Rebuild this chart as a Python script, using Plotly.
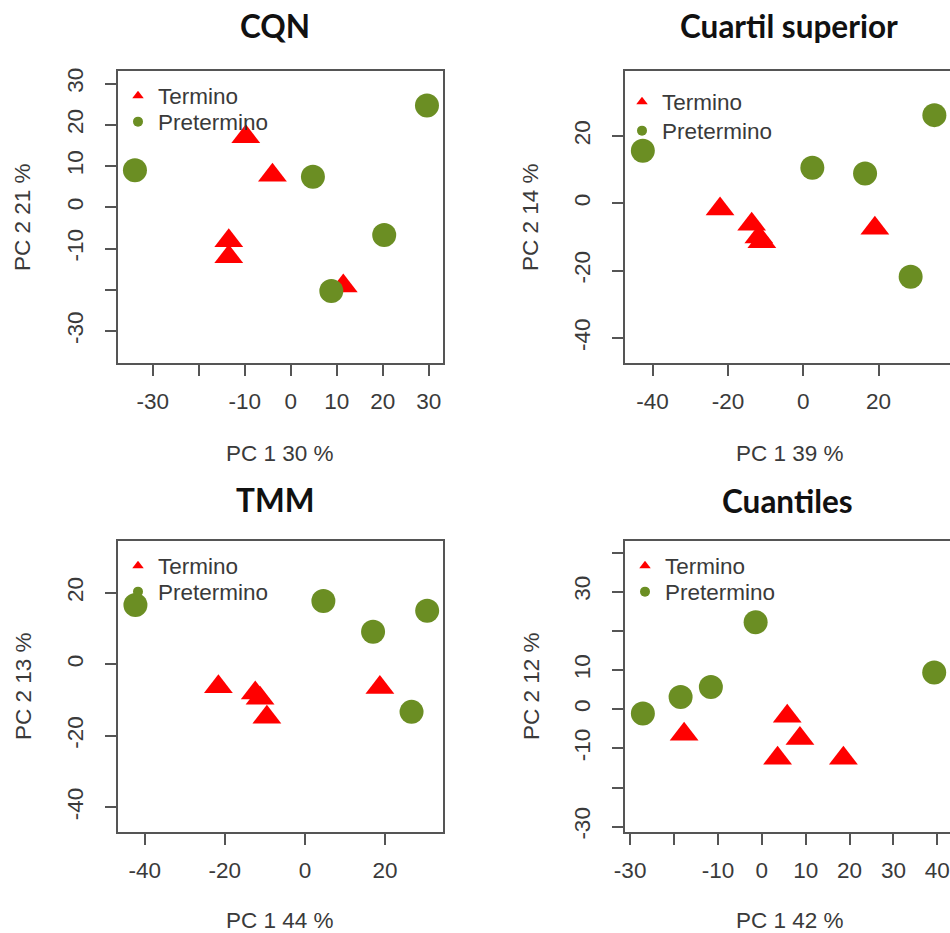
import plotly.graph_objects as go

# ---------------- data ----------------
titles = ["CQN", "Cuartil superior", "TMM", "Cuantiles"]
xlabels = ["PC 1 30 %", "PC 1 39 %", "PC 1 44 %", "PC 1 42 %"]
ylabels = ["PC 2 21 %", "PC 2 14 %", "PC 2 13 %", "PC 2 12 %"]
groups = ["Termino", "Pretermino"]

# CQN
cqn_term_x = [-9.8, -4.0, -13.5, -13.5, 11.4]
cqn_term_y = [17.1, 7.8, -8.1, -12.0, -19.1]
cqn_pre_x = [-33.9, 29.6, 4.8, 20.3, 8.8]
cqn_pre_y = [9.0, 24.7, 7.4, -6.7, -20.3]

# Cuartil superior
uq_term_x = [-22.1, -13.7, -11.0, -11.8, 19.0]
uq_term_y = [-1.7, -6.2, -11.4, -10.0, -7.4]
uq_pre_x = [-42.6, 34.8, 2.4, 16.4, 28.5]
uq_pre_y = [15.6, 26.2, 10.6, 8.9, -21.8]

# TMM
tmm_term_x = [-21.6, -12.4, -11.2, -9.5, 18.7]
tmm_term_y = [-6.3, -8.0, -9.5, -14.8, -6.5]
tmm_pre_x = [-42.3, 4.6, 30.5, 17.0, 26.6]
tmm_pre_y = [16.6, 17.7, 15.0, 9.1, -13.3]

# Cuantiles
cua_term_x = [-17.7, 5.8, 8.7, 3.6, 18.6]
cua_term_y = [-6.4, -1.8, -7.5, -12.5, -12.5]
cua_pre_x = [-27.1, -18.5, -11.6, -1.4, 39.3]
cua_pre_y = [-1.1, 3.1, 5.7, 22.2, 9.4]

# tick values and labels (blank = label dropped as in the original)
cqn_xticks = [-30, -20, -10, 0, 10, 20, 30]
cqn_xtext = ["-30", "", "-10", "0", "10", "20", "30"]
cqn_yticks = [-30, -20, -10, 0, 10, 20, 30]
cqn_ytext = ["-30", "", "-10", "0", "10", "20", "30"]
uq_xticks = [-40, -20, 0, 20]
uq_xtext = ["-40", "-20", "0", "20"]
uq_yticks = [-40, -20, 0, 20]
uq_ytext = ["-40", "-20", "0", "20"]
tmm_xticks = [-40, -20, 0, 20]
tmm_xtext = ["-40", "-20", "0", "20"]
tmm_yticks = [-40, -20, 0, 20]
tmm_ytext = ["-40", "-20", "0", "20"]
cua_xticks = [-30, -20, -10, 0, 10, 20, 30, 40]
cua_xtext = ["-30", "", "-10", "0", "10", "20", "30", "40"]
cua_yticks = [-30, -20, -10, 0, 10, 20, 30, 40]
cua_ytext = ["-30", "", "-10", "0", "10", "", "30", ""]

# ---------------- geometry (window pixels) ----------------
W, H = 950, 933
RED = "#FF0000"
GREEN = "#6B8E23"
TXT = "#3a3a3a"
AX = "#555555"
FONT = "Liberation Sans, Arial, sans-serif"
FS = 22.5

panels = [
    dict(data=(cqn_term_x, cqn_term_y, cqn_pre_x, cqn_pre_y),
         box=(117, 444, 70, 364), xr=(-37.8, 33.3), yr=(-38.0, 33.3),
         xt=(cqn_xticks, cqn_xtext), yt=(cqn_yticks, cqn_ytext),
         title=(275, 26), xlab=(280, 453), ylab=(23, 217),
         leg=((138, 96), (138, 122))),
    dict(data=(uq_term_x, uq_term_y, uq_pre_x, uq_pre_y),
         box=(624, 953, 70, 364), xr=(-47.6, 38.95), yr=(-47.7, 39.6),
         xt=(uq_xticks, uq_xtext), yt=(uq_yticks, uq_ytext),
         title=(789, 26), xlab=(790, 453), ylab=(531, 217),
         leg=((642, 102), (642, 131))),
    dict(data=(tmm_term_x, tmm_term_y, tmm_pre_x, tmm_pre_y),
         box=(117, 444, 540, 833), xr=(-46.9, 34.7), yr=(-47.2, 34.8),
         xt=(tmm_xticks, tmm_xtext), yt=(tmm_yticks, tmm_ytext),
         title=(275, 500), xlab=(280, 920), ylab=(23, 686),
         leg=((138, 566), (138, 592))),
    dict(data=(cua_term_x, cua_term_y, cua_pre_x, cua_pre_y),
         box=(624, 953, 540, 833), xr=(-31.4, 42.9), yr=(-31.6, 43.2),
         xt=(cua_xticks, cua_xtext), yt=(cua_yticks, cua_ytext),
         title=(787, 501), xlab=(790, 920), ylab=(531, 686),
         leg=((645, 566), (645, 592))),
]

fig = go.Figure()
layout = dict(width=W, height=H, margin=dict(l=0, r=0, t=0, b=0, autoexpand=False),
              paper_bgcolor="white", plot_bgcolor="white", showlegend=True)
shapes, annotations = [], []


def px(x):
    return x / W


def py(y):
    return 1 - y / H


axfont = dict(family=FONT, size=FS, color=TXT)

leg_i = 0
for i, p in enumerate(panels):
    n = i + 1
    xa = "x" if n == 1 else f"x{n}"
    ya = "y" if n == 1 else f"y{n}"
    tx, ty, gx, gy = p["data"]
    x0, x1, y0, y1 = p["box"]

    fig.add_trace(go.Scatter(x=tx, y=ty, mode="markers", xaxis=xa, yaxis=ya,
                             marker=dict(symbol="triangle-up", size=25, color=RED),
                             showlegend=False, hoverinfo="skip"))
    fig.add_trace(go.Scatter(x=gx, y=gy, mode="markers", xaxis=xa, yaxis=ya,
                             marker=dict(symbol="circle", size=24, color=GREEN),
                             showlegend=False, hoverinfo="skip"))
    # legend entries, one legend box per entry for exact placement
    for (sym, col, name), (lx, ly) in zip(
            [("triangle-up", RED, groups[0]), ("circle", GREEN, groups[1])], p["leg"]):
        leg_i += 1
        lg = "legend" if leg_i == 1 else f"legend{leg_i}"
        fig.add_trace(go.Scatter(x=[None], y=[None], mode="markers", xaxis=xa, yaxis=ya,
                                 marker=dict(symbol=sym, size=10, color=col),
                                 name=name, legend=lg))
        layout[lg] = dict(x=px(lx - 20), y=py(ly), xanchor="left", yanchor="middle",
                          bgcolor="rgba(0,0,0,0)", borderwidth=0,
                          font=dict(family=FONT, size=FS, color=TXT),
                          itemsizing="trace")

    xkey = "xaxis" if n == 1 else f"xaxis{n}"
    ykey = "yaxis" if n == 1 else f"yaxis{n}"
    layout[xkey] = dict(domain=[px(x0), min(px(x1), 1.0)], range=list(p["xr"]),
                        anchor=ya, showgrid=False, zeroline=False, showline=False,
                        ticks="outside", ticklen=11, tickwidth=1.5, tickcolor=AX,
                        tickvals=p["xt"][0], ticktext=p["xt"][1], automargin=False,
                        tickfont=axfont, ticklabelstandoff=6, fixedrange=True)
    layout[ykey] = dict(domain=[py(y1), py(y0)], range=list(p["yr"]),
                        anchor=xa, showgrid=False, zeroline=False, showline=False,
                        ticks="outside", ticklen=11, tickwidth=1.5, tickcolor=AX,
                        tickvals=p["yt"][0], ticktext=p["yt"][1], tickangle=-90,
                        automargin=False,
                        tickfont=axfont, ticklabelstandoff=13, fixedrange=True)

    shapes.append(dict(type="rect", xref="paper", yref="paper",
                       x0=px(x0), x1=px(x1), y0=py(y1), y1=py(y0),
                       line=dict(color=AX, width=2), fillcolor="rgba(0,0,0,0)"))

    annotations.append(dict(text=f"<b>{titles[i]}</b>", x=px(p["title"][0]), y=py(p["title"][1]),
                            xref="paper", yref="paper", showarrow=False,
                            xanchor="center", yanchor="middle",
                            font=dict(family="Lato, sans-serif", size=31.5, color="#111111")))
    annotations.append(dict(text=xlabels[i], x=px(p["xlab"][0]), y=py(p["xlab"][1]),
                            xref="paper", yref="paper", showarrow=False,
                            xanchor="center", yanchor="middle", font=axfont))
    annotations.append(dict(text=ylabels[i], x=px(p["ylab"][0]), y=py(p["ylab"][1]),
                            xref="paper", yref="paper", showarrow=False, textangle=-90,
                            xanchor="center", yanchor="middle", font=axfont))

layout["shapes"] = shapes
layout["annotations"] = annotations
fig.update_layout(**layout)
# remove the page's default 8px body margin so the figure fills the window exactly
fig.write_html("out.html", config={"displayModeBar": False},
               post_script="document.body.style.margin='0';document.body.style.overflow='hidden';")
